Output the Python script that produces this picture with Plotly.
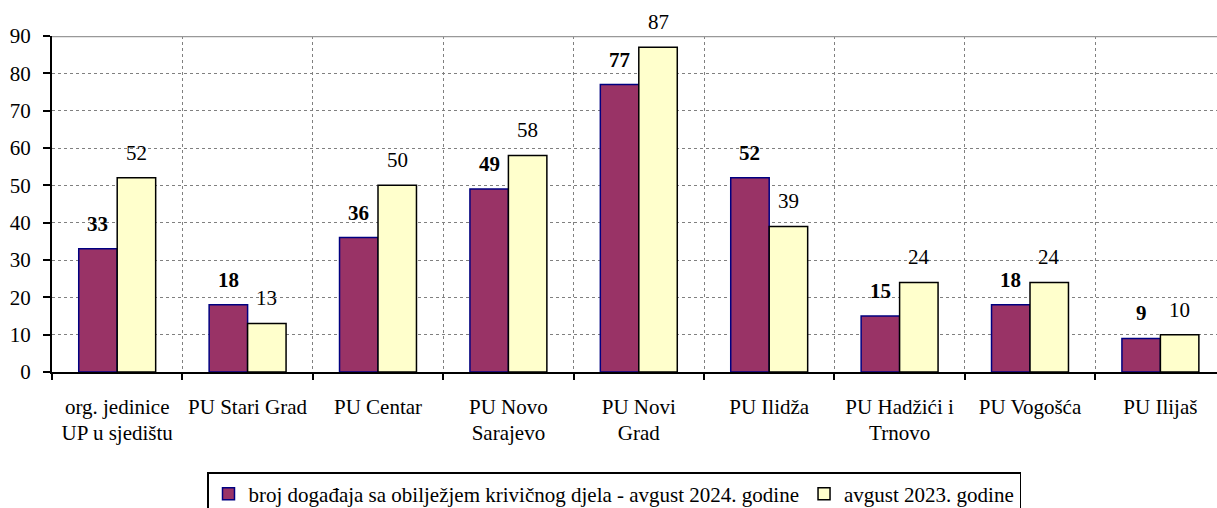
import plotly.graph_objects as go

categories = ["org. jedinice\nUP u sjedištu", "PU Stari Grad", "PU Centar", "PU Novo\nSarajevo",
              "PU Novi\nGrad", "PU Ilidža", "PU Hadžići i\nTrnovo", "PU Vogošća", "PU Ilijaš"]
values_2024 = [33, 18, 36, 49, 77, 52, 15, 18, 9]
values_2023 = [52, 13, 50, 58, 87, 39, 24, 24, 10]
name_2024 = "broj događaja sa obilježjem krivičnog djela - avgust 2024. godine"
name_2023 = "avgust 2023. godine"
y_ticks = [0, 10, 20, 30, 40, 50, 60, 70, 80, 90]

FONT = "Liberation Serif"
FS = 21
pos = list(range(len(categories)))
line1 = [c.split("\n")[0] for c in categories]
line2 = [c.split("\n")[1] if "\n" in c else "" for c in categories]
bargap = 0.41
bw = (1 - bargap) / 2
xr = [-0.5, -0.5 + 1165 / 130.4]
boundaries = [i - 0.5 for i in range(len(categories) + 1)]

fig = go.Figure()
fig.add_trace(go.Bar(x=pos, y=values_2024, name=name_2024,
                     marker=dict(color="#993366", line=dict(color="#000080", width=1.5))))
fig.add_trace(go.Bar(x=pos, y=values_2023, name=name_2023,
                     marker=dict(color="#FFFFCC", line=dict(color="#000000", width=1.5))))
# invisible helper traces to activate the overlay axes (boundary ticks, second label line)
for ax in ("x2", "x3"):
    fig.add_trace(go.Scatter(x=[xr[0]], y=[0], xaxis=ax, mode="markers",
                             marker=dict(opacity=0), showlegend=False, hoverinfo="skip"))

for i, (a, b) in enumerate(zip(values_2024, values_2023)):
    fig.add_annotation(x=i - bw / 2, y=a, text=f"<b>{a}</b>", showarrow=False,
                       yanchor="bottom", yshift=11, font=dict(family=FONT, size=FS, color="black"))
    fig.add_annotation(x=i + bw / 2, y=b, text=f"{b}", showarrow=False,
                       yanchor="bottom", yshift=11, font=dict(family=FONT, size=FS, color="black"))

tickfont = dict(family=FONT, size=FS, color="black")
fig.update_layout(
    width=1217, height=508,
    margin=dict(l=52, r=0, t=36, b=136, autoexpand=False),
    plot_bgcolor="white", paper_bgcolor="white",
    barmode="group", bargap=bargap, bargroupgap=0,
    font=dict(family=FONT, size=FS, color="black"),
    xaxis=dict(range=xr, tickmode="array", tickvals=pos, ticktext=line1,
               showgrid=False, ticks="", showline=True, linecolor="black", linewidth=2,
               ticklabelstandoff=15, tickfont=tickfont, zeroline=False, automargin=False),
    xaxis2=dict(range=xr, overlaying="x", side="bottom", tickmode="array", tickvals=boundaries,
                showticklabels=False, ticks="outside", ticklen=7, tickwidth=2, tickcolor="black",
                showgrid=True, gridcolor="#808080", griddash="dot", gridwidth=1, showline=False,
                zeroline=False, layer="below traces", automargin=False),
    xaxis3=dict(range=xr, overlaying="x", side="bottom", tickmode="array", tickvals=pos,
                ticktext=line2, showgrid=False, ticks="", showline=False, zeroline=False,
                ticklabelstandoff=46, tickfont=tickfont, automargin=False),
    yaxis=dict(range=[0, 90], tickmode="array", tickvals=y_ticks, showgrid=True,
               gridcolor="#808080", griddash="dot", gridwidth=1, showline=True,
               linecolor="black", linewidth=2, ticks="outside", ticklen=7, tickwidth=2,
               tickcolor="black", tickfont=tickfont, ticklabelstandoff=8,
               zeroline=False, automargin=False),
    legend=dict(orientation="h", x=(207 - 52) / 1165, xanchor="left", y=(372 - 472) / 336,
                yanchor="top", bordercolor="black", borderwidth=1.5, bgcolor="white",
                font=dict(family=FONT, size=FS, color="black"), traceorder="normal",
                itemwidth=30, tracegroupgap=0),
    showlegend=True,
)
fig.add_shape(type="line", xref="paper", yref="y", x0=0, x1=1, y0=90, y1=90,
              line=dict(color="#999999", width=2.5), layer="above")
fig.write_html("out.html", config={"displayModeBar": False},
               post_script="document.body.style.margin='0';document.body.style.overflow='hidden';")
